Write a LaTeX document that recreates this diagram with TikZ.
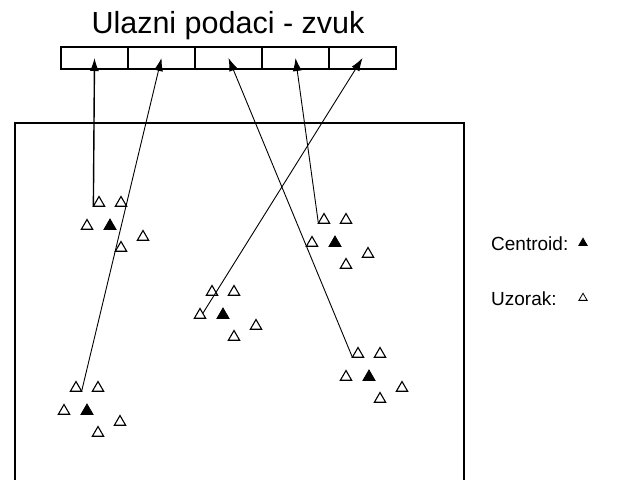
\documentclass[tikz,border=0pt]{standalone}
\usepackage{fontspec}
\setmainfont{Liberation Sans}
\usetikzlibrary{shapes.geometric,arrows.meta,calc}
\tikzset{
  opentri/.style={regular polygon,regular polygon sides=3,draw,line width=1.1pt,inner sep=0pt,minimum size=13pt,outer sep=0pt},
  filltri/.style={regular polygon,regular polygon sides=3,draw,fill,line width=0.8pt,inner sep=0pt,minimum size=14pt,outer sep=0pt},
  cellbox/.style={draw,line width=1.2pt,minimum width=67pt,minimum height=22pt,inner sep=0pt,outer sep=0pt},
  link/.style={line width=0.9pt,-{Latex[length=13pt,width=9pt]}},
  frame/.style={line width=1.8pt},
  legend/.style={font=\fontsize{19}{22}\selectfont,inner sep=0pt,anchor=base west}
}
\newcommand\mycluster[3]{%
  \node[filltri] (#1c) at (#2,#3) {};
  \node[opentri] (#1a) at (#2-11,#3-23) {};
  \node[opentri] (#1b) at (#2+11,#3-23) {};
  \node[opentri] (#1l) at (#2-23,#3) {};
  \node[opentri] (#1r) at (#2+33,#3+11) {};
  \node[opentri] (#1d) at (#2+11,#3+22) {};
}
\begin{document}
\begin{tikzpicture}[x=1pt,y=-1pt]
\useasboundingbox (0,0) rectangle (617,479);
% title
\node[font=\fontsize{30.5}{34}\selectfont,anchor=base,inner sep=0pt] (title) at (228,33) {Ulazni podaci - zvuk};
% input array
\node[cellbox] (cell1) at (94.5,58) {};
\node[cellbox] (cell2) at (161.5,58) {};
\node[cellbox] (cell3) at (228.5,58) {};
\node[cellbox] (cell4) at (295.5,58) {};
\node[cellbox] (cell5) at (362.5,58) {};
% frame
\coordinate (fbl) at (15,480);
\coordinate (ftl) at (15,123);
\coordinate (ftr) at (464,123);
\coordinate (fbr) at (464,480);
\draw[frame] (fbl) -- (ftl) -- (ftr) -- (fbr);
% clusters
\mycluster{k1}{110}{226}
\mycluster{k2}{335}{243}
\mycluster{k3}{223}{315}
\mycluster{k4}{369}{377}
\mycluster{k5}{87}{411}
% arrows
\draw[link,line width=1.4pt] (k1a.corner 2) -- (cell1.center);
\draw[link] (k5a.corner 3) -- (cell2.center);
\draw[link] (k4a.corner 2) -- (cell3.center);
\draw[link] (k2a.corner 2) -- (cell4.center);
\draw[link] ($(k3l.corner 1)!0.5!(k3l.corner 3)$) -- (cell5.center);
% legend
\node[legend] (lc) at (491,250) {Centroid:};
\node[filltri,minimum size=9.5pt] (lct) at (583,243) {};
\node[legend] (lu) at (491,305) {Uzorak:};
\node[opentri,minimum size=9.5pt,line width=0.8pt] (lut) at (583,298) {};
\end{tikzpicture}
\end{document}
